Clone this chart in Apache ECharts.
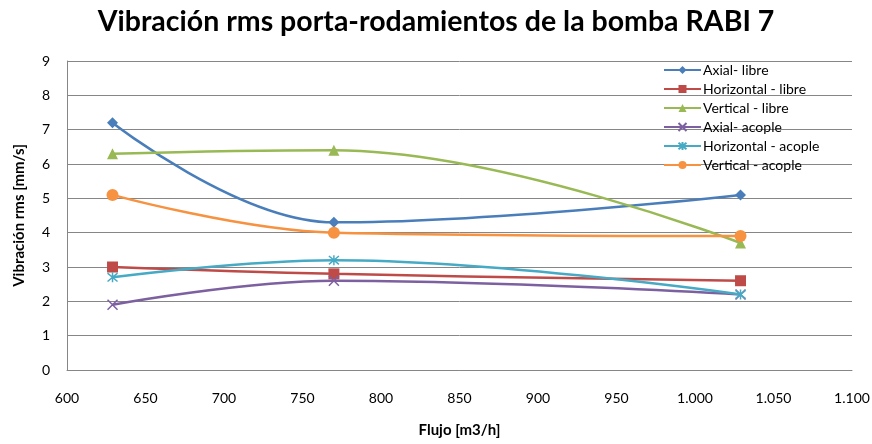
<!DOCTYPE html>
<html>
<head>
<meta charset="utf-8">
<script src="https://cdn.jsdelivr.net/npm/echarts@6/dist/echarts.min.js"></script>
<style>
  html, body { margin: 0; padding: 0; background: #fff; }
  #chart { width: 872px; height: 444px; }
</style>
</head>
<body>
<div id="chart"></div>
<script>
// caudal (m3/h) en los tres puntos medidos
var flujo = [629, 770, 1029];

var axialLibre = [7.2, 4.3, 5.1];
var horizontalLibre = [3.0, 2.8, 2.6];
var verticalLibre = [6.3, 6.4, 3.7];
var axialAcople = [1.9, 2.6, 2.2];
var horizontalAcople = [2.7, 3.2, 2.2];
var verticalAcople = [5.1, 4.0, 3.9];

var nombres = ['Axial- libre', 'Horizontal - libre', 'Vertical - libre',
  'Axial- acople', 'Horizontal - acople', 'Vertical - acople'];

var fuente = 'Lato';

function pares(ys) {
  return flujo.map(function (x, i) { return [x, ys[i]]; });
}

function serie(nombre, ys, color, simbolo, tam, hueco) {
  return {
    name: nombre,
    type: 'line',
    smooth: 0.4,
    data: pares(ys),
    symbol: simbolo,
    symbolSize: tam,
    lineStyle: { color: color, width: 2.5 },
    itemStyle: hueco
      ? { color: 'rgba(0,0,0,0)', borderColor: color, borderWidth: 1.5 }
      : { color: color },
    emphasis: { disabled: true }
  };
}

var chart = echarts.init(document.getElementById('chart'));
chart.setOption({
  animation: false,
  title: {
    text: 'Vibración rms porta-rodamientos de la bomba RABI 7',
    left: 'center',
    top: 2,
    textStyle: { fontFamily: fuente, fontWeight: 'bold', fontSize: 28.5, color: '#000' }
  },
  legend: {
    orient: 'vertical',
    left: 663,
    top: 63,
    padding: 0,
    itemWidth: 37,
    itemHeight: 10,
    itemGap: 5,
    data: nombres,
    textStyle: { fontFamily: fuente, fontSize: 14, color: '#000', padding: [0, 0, 0, -3] }
  },
  grid: { left: 67, right: 20, top: 61, bottom: 74, containLabel: false, outerBoundsMode: 'none' },
  xAxis: {
    type: 'value',
    min: 600,
    max: 1100,
    interval: 50,
    name: 'Flujo [m3/h]',
    nameLocation: 'middle',
    nameGap: 53,
    nameTextStyle: { fontFamily: fuente, fontWeight: 'bold', fontSize: 15, color: '#000' },
    axisLine: { lineStyle: { color: '#868686', width: 1 } },
    axisTick: { show: false },
    splitLine: { show: false },
    axisLabel: {
      margin: 21,
      fontFamily: fuente,
      fontSize: 14,
      color: '#000',
      formatter: function (v) {
        return v >= 1000 ? Math.floor(v / 1000) + '.' + String(v % 1000).padStart(3, '0') : String(v);
      }
    }
  },
  yAxis: {
    type: 'value',
    min: 0,
    max: 9,
    interval: 1,
    name: 'Vibración rms [mm/s]',
    nameLocation: 'middle',
    nameGap: 40,
    nameTextStyle: { fontFamily: fuente, fontWeight: 'bold', fontSize: 15, color: '#000' },
    axisLine: { show: true, lineStyle: { color: '#868686', width: 1 } },
    axisTick: { show: false },
    splitLine: { lineStyle: { color: '#868686', width: 1 } },
    axisLabel: { margin: 17, fontFamily: fuente, fontSize: 14, color: '#000' }
  },
  series: [
    serie(nombres[0], axialLibre, '#4A7EBB', 'diamond', 11),
    serie(nombres[1], horizontalLibre, '#BE4B48', 'rect', 11),
    serie(nombres[2], verticalLibre, '#98B954', 'triangle', 11),
    serie(nombres[3], axialAcople, '#7D60A0', 'path://M0,0L10,10M10,0L0,10', 10, true),
    serie(nombres[4], horizontalAcople, '#46AAC5', 'path://M0,0L10,10M10,0L0,10M5,-1L5,11', 10, true),
    serie(nombres[5], verticalAcople, '#F69240', 'circle', 12)
  ]
});
</script>
</body>
</html>
